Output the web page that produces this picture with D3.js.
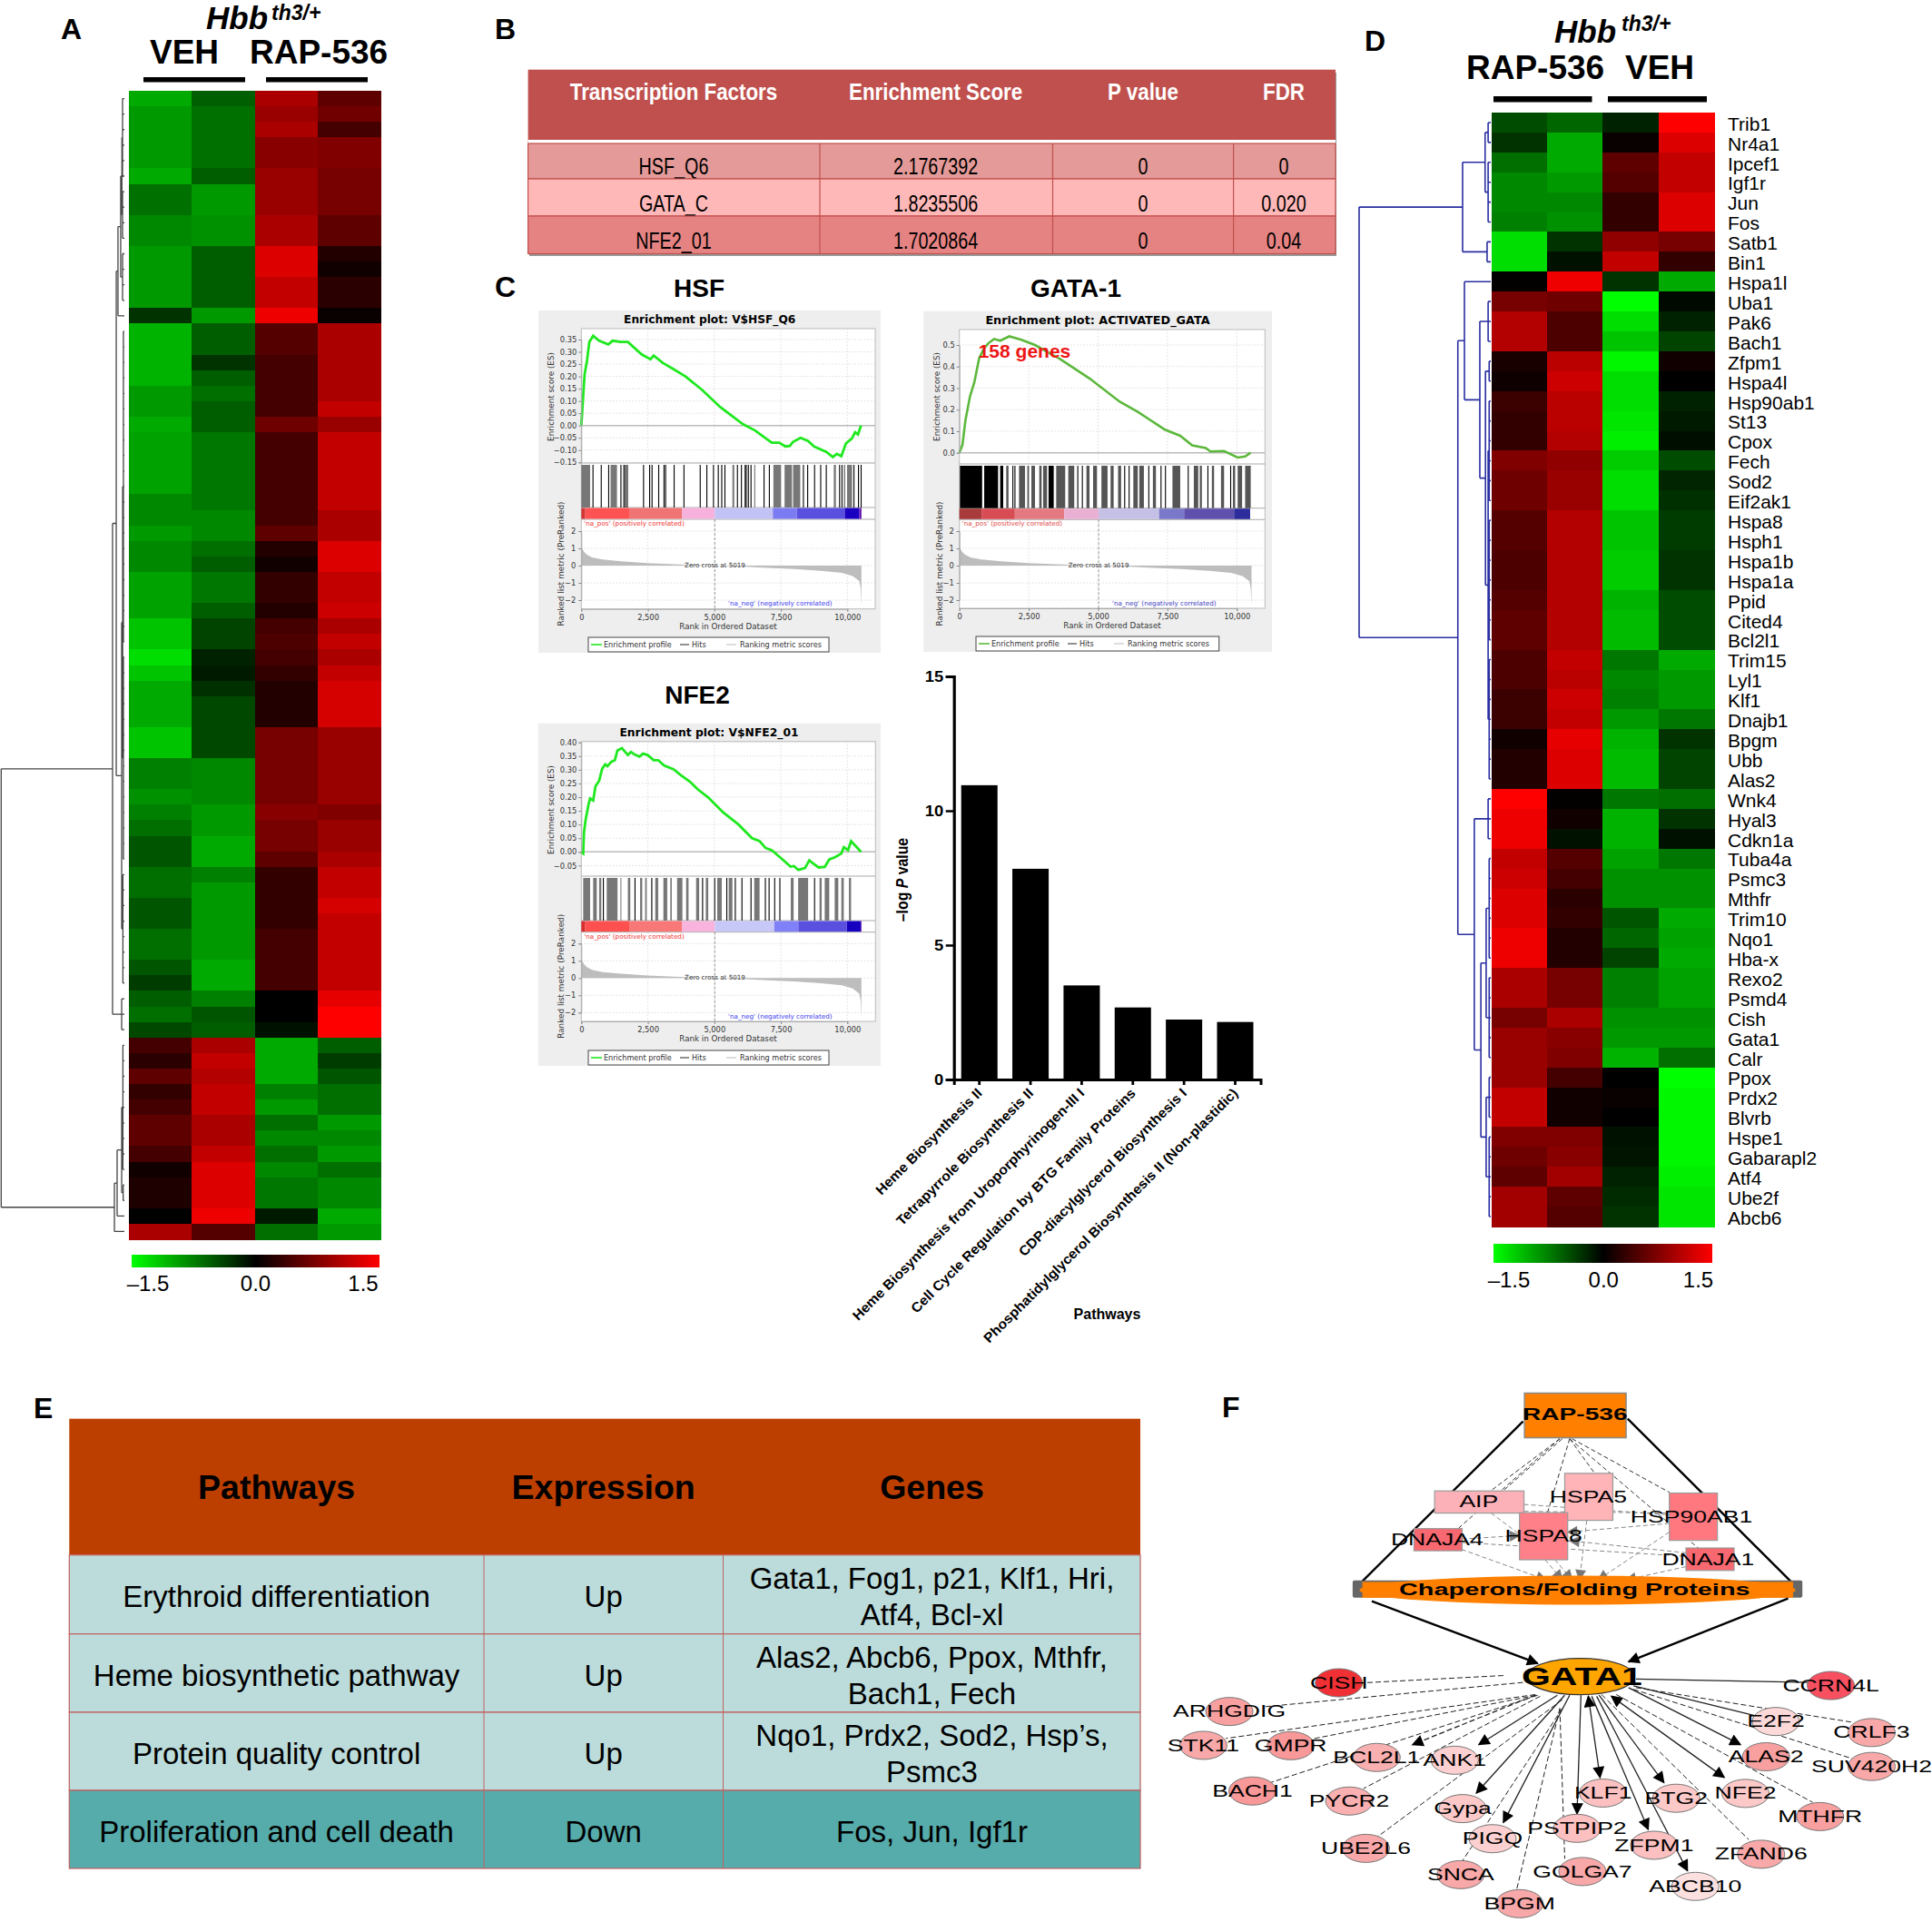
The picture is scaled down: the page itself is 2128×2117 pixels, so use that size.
<!DOCTYPE html>
<html><head><meta charset="utf-8">
<script src="https://d3js.org/d3.v7.min.js"></script>
<style>
html,body{margin:0;padding:0;background:#fff}
svg{display:block}
text{font-family:"Liberation Sans",Arial,sans-serif}
.dj text,.dj{font-family:"DejaVu Sans",sans-serif}
</style></head><body>
<svg id="c" width="2128" height="2117"></svg>
<script>
// ---------- DATA ----------
const heatA = [
[-1,-.56,1,.56],[-.9,-.66,.9,.66],[-.9,-.66,1,.4],[-.9,-.66,.8,.75],[-.9,-.66,.8,.75],[-1,-.55,.9,.7],[-.66,-.9,.9,.7],[-.66,-.9,.9,.7],[-.8,-.85,1,.55],[-.8,-.85,1,.55],
[-.9,-.55,1.3,.2],[-.9,-.55,1.3,.1],[-.9,-.55,1.15,.25],[-.9,-.55,1.15,.25],[-.3,-.9,1.4,.05],[-1.05,-.55,.5,1],[-1.05,-.55,.5,1],[-1.05,-.3,.4,1],[-1.05,-.55,.4,1],[-.9,-.65,.4,1],
[-.9,-.55,.4,1.15],[-1,-.55,.65,.9],[-.95,-.7,.4,1.15],[-.95,-.7,.4,1.15],[-.95,-.7,.4,1.15],[-.95,-.7,.4,1.15],[-.8,-.7,.4,1.15],[-.8,-.8,.4,1],[-.9,-.8,.55,1],[-.8,-.65,.2,1.3],
[-.8,-.55,.1,1.3],[-.95,-.7,.3,1.15],[-.95,-.7,.3,1.15],[-.95,-.55,.2,1.2],[-1.15,-.4,.4,1],[-1.15,-.4,.45,1.15],[-1.3,-.2,.4,1],[-1.15,-.15,.3,1.15],[-1,-.28,.2,1.25],[-1,-.42,.2,1.25],
[-1,-.42,.2,1.25],[-1.15,-.42,.7,.9],[-1.15,-.42,.7,.9],[-.75,-.8,.7,.9],[-.75,-.8,.7,.9],[-.85,-.8,.7,.9],[-.75,-.9,.8,.75],[-.65,-.9,.7,.9],[-.5,-1,.7,.9],[-.5,-1,.55,1],
[-.65,-.75,.3,1.15],[-.65,-.9,.3,1.15],[-.5,-.9,.3,1.25],[-.5,-.9,.3,1.15],[-.65,-.9,.4,1.15],[-.65,-.9,.4,1.15],[-.5,-1,.4,1.15],[-.35,-1,.4,1.15],[-.55,-.75,0,1.35],[-.65,-.5,0,1.5],
[-.42,-.55,-.1,1.5],[.4,1,-1,-.55],[.25,1.15,-1,-.35],[.55,1.05,-1,-.5],[.3,1.15,-.75,-.65],[.4,1.15,-.9,-.65],[.55,1,-.65,-.9],[.55,1,-.8,-.8],[.4,1.15,-.65,-.9],[.1,1.3,-.8,-.65],
[.18,1.3,-.7,-.8],[.18,1.3,-.7,-.8],[0,1.4,-.15,-1],[1,.5,-.65,-.9]];
const genesD = ["Trib1","Nr4a1","Ipcef1","Igf1r","Jun","Fos","Satb1","Bin1","Hspa1l","Uba1","Pak6","Bach1","Zfpm1","Hspa4l","Hsp90ab1","St13","Cpox","Fech","Sod2","Eif2ak1","Hspa8","Hsph1","Hspa1b","Hspa1a","Ppid","Cited4","Bcl2l1","Trim15","Lyl1","Klf1","Dnajb1","Bpgm","Ubb","Alas2","Wnk4","Hyal3","Cdkn1a","Tuba4a","Psmc3","Mthfr","Trim10","Nqo1","Hba-x","Rexo2","Psmd4","Cish","Gata1","Calr","Ppox","Prdx2","Blvrb","Hspe1","Gabarapl2","Atf4","Ube2f","Abcb6"];
const heatD = [
[-.45,-.6,-.2,1.5],[-.3,-1,.05,1.3],[-.65,-1,.55,1.15],[-.8,-.9,.5,1.15],[-.8,-.8,.3,1.3],[-.75,-.85,.3,1.3],[-1.3,-.3,.85,.7],[-1.3,-.1,1.15,.3],[.02,1.4,-.3,-1],[.7,.65,-1.5,-.05],
[1.05,.45,-1.3,-.2],[1.05,.45,-1.15,-.4],[.15,1.1,-1.45,.1],[.08,1.2,-1.3,0],[.35,1.1,-1.3,-.2],[.3,1.1,-1.35,-.15],[.3,1.05,-1.4,-.08],[.75,.85,-1.2,-.45],[.65,.9,-1.3,-.22],[.65,.9,-1.3,-.28],
[.5,1.05,-1.15,-.35],[.5,1.05,-1.15,-.35],[.45,1.05,-1.2,-.3],[.45,1.05,-1.2,-.3],[.5,1.05,-1.05,-.45],[.55,1.05,-1.1,-.45],[.55,1.05,-1.1,-.45],[.45,1.15,-.7,-1],[.45,1.1,-.8,-.9],[.35,1.2,-.75,-.9],
[.35,1.15,-.9,-.7],[.1,1.35,-1.05,-.3],[.2,1.3,-1.1,-.4],[.2,1.3,-1.1,-.4],[1.5,.02,-.7,-.65],[1.4,.1,-1.05,-.3],[1.4,-.1,-1.05,-.1],[1.15,.5,-.95,-.7],[1.2,.4,-.85,-.85],[1.3,.25,-.85,-.85],
[1.3,.3,-.5,-1],[1.4,.2,-.6,-.95],[1.4,.2,-.4,-1],[1,.7,-.75,-.95],[1,.7,-.75,-.95],[.7,1,-.85,-.85],[.9,.8,-.9,-.9],[.9,.75,-1.05,-.65],[.9,.4,0,-1.5],[1.15,.1,.05,-1.45],
[1.15,.1,0,-1.45],[.75,.75,-.1,-1.45],[.65,.8,-.12,-1.45],[.55,.95,-.2,-1.4],[.95,.55,-.25,-1.35],[.95,.5,-.3,-1.35]];
const span=(a,b)=>d3.range(a,b+1);
const treeA=[1,
 [.096,
  [.066,
   [.052,[.03,[.02,[.015,...span(1,6)],[.015,...span(7,10)]],[.015,...span(11,14)]],15],
   [.022,[.014,[.008,...span(16,36)],[.008,...span(37,50)]],[.012,...span(51,58)]]],
  [.022,59,60,61]],
 [.081,[.059,[.022,[.012,...span(62,70)],[.01,71,72]],73],74]];
const treeD=[1,
 [.214,[.043,[.02,1,2],[.02,3,4,5,6]],[.028,7,8]],
 [.25,
  [.2,9,[.083,[.02,10,11,12],[.04,[.012,13,14],[.02,[.012,...span(15,20)],[.012,...span(21,27)],[.012,...span(28,34)]]]]],
  [.125,[.02,35,36,37],[.075,[.035,[.012,...span(38,43)],[.012,...span(44,48)]],[.035,[.012,49,50,51],[.012,...span(52,56)]]]]]];
const legendTicks=[-1.5,0,1.5];

const tableBHead=["Transcription Factors","Enrichment Score","P value","FDR"];
const tableBRows=[["HSF_Q6","2.1767392","0","0"],["GATA_C","1.8235506","0","0.020"],["NFE2_01","1.7020864","0","0.04"]];
const tableEHead=["Pathways","Expression","Genes"];
const tableERows=[
 [["Erythroid differentiation"],["Up"],["Gata1, Fog1, p21, Klf1, Hri,","Atf4, Bcl-xl"]],
 [["Heme biosynthetic pathway"],["Up"],["Alas2, Abcb6, Ppox, Mthfr,","Bach1, Fech"]],
 [["Protein quality control"],["Up"],["Nqo1, Prdx2, Sod2, Hsp’s,","Psmc3"]],
 [["Proliferation and cell death"],["Down"],["Fos, Jun, Igf1r"]]];

const barLabels=["Heme Biosynthesis II","Tetrapyrrole Biosynthesis II","Heme Biosynthesis from Uroporphyrinogen-III I","Cell Cycle Regulation by BTG Family Proteins","CDP-diacylglycerol Biosynthesis I","Phosphatidylglycerol Biosynthesis II (Non-plastidic)"];
const barValues=[10.95,7.84,3.5,2.68,2.23,2.14];

const esHSF=[[0,0],[25,.04],[70,.12],[125,.21],[215,.265],[300,.34],[445,.365],[670,.345],[1010,.33],[1180,.345],[1470,.34],[1750,.34],[2265,.29],[2600,.27],[2720,.285],[3060,.255],[3460,.23],[3915,.2],[4540,.145],[5225,.075],[6080,.005],[6530,-.02],[7160,-.07],[7440,-.07],[7670,-.085],[7840,-.083],[7955,-.067],[8240,-.05],[8525,-.063],[8750,-.085],[9205,-.107],[9457,-.128],[9605,-.115],[9775,-.125],[9945,-.073],[10175,-.052],[10290,-.027],[10400,-.036],[10515,0]];
const esGATA=[[0,0],[110,.036],[218,.15],[380,.26],[545,.33],[710,.437],[870,.48],[1035,.507],[1250,.528],[1470,.52],[1800,.54],[2235,.524],[2725,.5],[3600,.437],[4690,.345],[5780,.237],[6430,.19],[7410,.107],[7960,.079],[8390,.034],[8880,.022],[9050,.006],[9540,.008],[10030,-.022],[10300,-.017],[10500,0]];
const esNFE2=[[0,0],[70,-.006],[100,.07],[160,.116],[215,.144],[270,.173],[330,.195],[445,.188],[535,.24],[670,.26],[785,.304],[900,.32],[980,.313],[1125,.329],[1263,.335],[1354,.37],[1525,.379],[1750,.354],[1866,.365],[2037,.354],[2185,.348],[2320,.359],[2490,.354],[2720,.335],[2890,.335],[3118,.315],[3460,.302],[3744,.28],[4085,.256],[4370,.229],[4770,.199],[5337,.144],[5906,.1],[6418,.05],[6703,.039],[6930,.014],[7158,.006],[7500,-.022],[7864,-.054],[7990,-.052],[8160,-.066],[8410,-.059],[8570,-.031],[8694,-.041],[8922,-.057],[9150,-.055],[9320,-.028],[9548,-.019],[9775,-.006],[9866,.017],[10026,.006],[10140,.039],[10515,0]];
const hitsHSF=[[0,330],420,730,1010,[1100,1340],1470,1580,1640,1710,2320,2550,2640,2890,3090,3150,3470,3840,4450,4700,4950,5130,5260,5380,[5680,5750],5850,6000,6140,6180,6260,6360,[6500,6540],6850,7050,[7220,7510],[7640,7920],[7960,8230],8330,8490,8750,8980,9190,[9490,9570],9690,9780,[9870,9920],[9990,10180],10230,10400,10500];
const hitsGATA=[[20,820,1],[895,1395,1],[1470,1580,1],[1690,1770],1910,1985,[2150,2365],[2450,2510],[2595,2725],[2880,2965],[3020,3160],[3215,3400,1],[3490,3815],[3925,4140],4250,4415,[4580,4690],[4820,4960],[5120,5340],[5450,5560],[5720,5830],5940,6100,[6270,6430],[6485,6650],6810,[6975,7085],7250,7410,[7680,7960],8230,[8450,8610],[8665,8740],8940,[9100,9180],[9430,9540],9760,[9860,9940],[10030,10190],[10300,10500]];
const hitsNFE2=[[70,330],[445,580],[670,750],810,[955,1360],[1470,1505],[1750,1840],2000,[2210,2290],[2400,2460],2630,[2780,2890],[3085,3230],[3345,3400],[3600,3800],[3940,4030],[4315,4430],4540,[4680,4770],4995,[5110,5280],5450,[5540,5680],5770,6020,6360,[6500,6700],6900,7040,7250,7445,[7875,7980],[8150,8525],8750,[8955,9035],[9150,9320],[9525,9660],[9775,9866],[10060,10140]];
const metricCurve=[[0,1.3],[30,1],[100,.8],[200,.65],[400,.48],[800,.35],[1500,.25],[2500,.15],[3500,.08],[4500,.02],[5019,0],[6000,-.05],[7000,-.13],[8000,-.2],[9000,-.3],[9800,-.42],[10200,-.6],[10450,-.9],[10500,-1.3],[10530,-2.3]];
const bandHSF=[[0,150,"#d23636"],[150,1800,"#ff5252"],[1800,3780,"#f07474"],[3780,5019,"#f6b2dc"],[5019,7200,"#c2c2f4"],[7200,8100,"#7c7cf2"],[8100,9900,"#5a50e0"],[9900,10450,"#1a00c0"],[10450,10530,"#6010b0"]];
const bandGATA=[[0,800,"#a83a3c"],[800,2000,"#d84c54"],[2000,3780,"#e47a80"],[3780,5019,"#eab0d4"],[5019,7200,"#c4c0e6"],[7200,8100,"#7a78c8"],[8100,9900,"#5e50ac"],[9900,10480,"#2c2c9c"]];
const bandNFE2=[[0,150,"#d83030"],[150,1800,"#ff5050"],[1800,3780,"#f87878"],[3780,5019,"#f8b4dc"],[5019,7250,"#c8c8f8"],[7250,8160,"#8080f8"],[8160,9980,"#5a50e0"],[9980,10500,"#1800c0"],[10500,10530,"#6010b0"]];

// network: names, colours and layout units (the scales below map layout units to the page)
const netCircles=[["CISH",360,876,"#f03034"],["CCRN4L",1362,884,"#f85060"],["ARHGDIG",137,959,"#f8a0a0"],["E2F2",1250,988,"#fcd8d8"],["CRLF3",1445,1020,"#f8a8a8"],["STK11",84,1057,"#f8a8a8"],["GMPR",262,1058,"#f89898"],["BCL2L1",437,1092,"#f8b0b0"],["ANK1",596,1100,"#fcd0d0"],["ALAS2",1230,1090,"#f8a0a0"],["SUV420H2",1445,1118,"#f8a8a8"],["BACH1",184,1189,"#f89898"],["PYCR2",381,1218,"#fab0b0"],["KLF1",898,1195,"#fcc0c0"],["BTG2",1047,1210,"#fcc8c8"],["NFE2",1188,1196,"#fcc8c8"],["MTHFR",1340,1263,"#f8a0a0"],["Gypa",612,1240,"#fcc8c8"],["PIGQ",673,1327,"#fcd0d0"],["PSTPIP2",845,1297,"#fcc0c0"],["ZFPM1",1002,1346,"#fcc0c0"],["ZFAND6",1220,1372,"#f8a8a8"],["UBE2L6",415,1355,"#f8a8a8"],["SNCA",608,1431,"#f8a8a8"],["GOLGA7",856,1422,"#f8a8a8"],["ABCB10",1086,1465,"#fce0e0"],["BPGM",728,1515,"#f8a8a8"]];
const netRects=[["AIP",555,321,737,385,"#fcb0b8",645],["HSPA5",820,270,918,406,"#ffb4b8",868],["HSP90AB1",1033,327,1131,464,"#ff7880",1078],["HSPA8",728,384,826,520,"#ff8088",777],["DNAJA4",513,430,611,494,"#f86870",560],["DNAJA1",1067,486,1165,551,"#f86870",1112]];
// x1,y1,x2,y2,kind: d dashed, s solid, a solid arrow, b dashed arrow, c double arrow
const netEdges=[[695,855,410,876,"d"],[735,875,210,945,"d"],[760,910,130,1037,"d"],[762,912,300,1040,"d"],[760,912,510,1055,"b"],[765,912,205,1172,"d"],[770,915,410,1182,"d"],[805,912,645,1055,"a"],[815,925,440,1320,"d"],[820,912,640,1195,"a"],[830,912,695,1280,"a"],[815,950,610,1395,"d"],[853,912,845,1255,"a"],[810,950,722,1475,"d"],[810,950,820,1385,"d"],[868,915,892,1150,"c"],[875,915,990,1300,"a"],[885,915,1070,1420,"a"],[890,912,1022,1165,"a"],[895,910,1195,1330,"d"],[915,915,1145,1150,"c"],[925,910,1325,1222,"d"],[950,890,1178,1055,"a"],[960,885,1205,970,"s"],[965,890,1405,990,"d"],[960,895,1405,1095,"d"],[965,865,1320,875,"s"]];
const netInner=[[810,170,670,320,"d"],[815,170,695,320,"d"],[830,170,880,268,"d"],[830,170,785,384,"d"],[835,170,1033,325,"d"],[830,170,1095,490,"d"],[810,170,555,490,"d"],[610,490,782,578,"g"],[780,520,815,578,"g"],[800,520,835,578,"g"],[865,406,850,578,"g"],[1033,440,888,578,"g"],[1067,540,945,578,"g"],[737,360,1033,390,"e"],[737,380,1033,385,"e"],[1033,415,826,440,"g"],[611,470,1067,510,"e"],[1067,500,830,465,"g"],[611,460,728,450,"g"],[670,385,760,480,"e"]];
const netMain=[[735,120,408,582],[948,112,1280,582]];
const netChap=[[427,640,765,820],[1275,632,950,815]];

// ---------- DRAW ----------
const svg=d3.select("#c");
const color=d3.scaleLinear().domain([-1.5,0,1.5]).range(["#00ff00","#000000","#ff0000"]);
const defs=svg.append("defs");
function marker(id,fill,w,h){defs.append("marker").attr("id",id).attr("viewBox","0 0 10 10").attr("refX",9).attr("refY",5)
 .attr("markerUnits","userSpaceOnUse").attr("markerWidth",w).attr("markerHeight",h).attr("orient","auto-start-reverse")
 .append("path").attr("d","M0,0L10,5L0,10Z").attr("fill",fill);}
marker("ab","#000",17,13);marker("ag","#777",16,12);
const grad=defs.append("linearGradient").attr("id","lg");
[[0,"#00ff00"],[.5,"#000"],[1,"#ff0000"]].forEach(s=>grad.append("stop").attr("offset",s[0]).attr("stop-color",s[1]));

function T(g,x,y,s,size,o={}){return g.append("text").attr("x",x).attr("y",y).text(s).attr("font-size",size)
 .attr("font-weight",o.w||null).attr("font-style",o.i||null).attr("text-anchor",o.a||"start").attr("fill",o.f||"#000");}
// narrow text: stretched horizontally by sx around its anchor
function N(g,x,y,s,size,sx,o={}){return g.append("text").attr("transform",`translate(${x},${y}) scale(${sx},1)`).text(s).attr("font-size",size)
 .attr("font-weight",o.w||null).attr("text-anchor","middle").attr("fill",o.f||"#000");}

function heat(g,data,x0,x1,y0,y1){
 const x=d3.scaleBand().domain(d3.range(4)).range([x0,x1]);
 const y=d3.scaleBand().domain(d3.range(data.length)).range([y0,y1]);
 g.selectAll("g.r").data(data).join("g").selectAll("rect").data((d,i)=>d.map((v,j)=>({v,j,i}))).join("rect")
  .attr("x",d=>x(d.j)).attr("y",d=>y(d.i)).attr("width",x.bandwidth()+.5).attr("height",y.bandwidth()+.5)
  .attr("fill",d=>color(d.v)).attr("shape-rendering","crispEdges");
 return y;
}
function dendro(g,tree,y,xh,stroke,w){
 const p=d3.path();
 (function walk(n){
  if(typeof n==="number") return {x:xh(0),y:y(n-1)+y.bandwidth()/2};
  const ch=n.slice(1).map(walk), X=xh(n[0]);
  ch.forEach(c=>{p.moveTo(c.x,c.y);p.lineTo(X,c.y);});
  p.moveTo(X,ch[0].y);p.lineTo(X,ch[ch.length-1].y);
  return {x:X,y:(ch[0].y+ch[ch.length-1].y)/2};
 })(tree);
 g.append("path").attr("d",p.toString()).attr("fill","none").attr("stroke",stroke).attr("stroke-width",w);
}
function colorbar(g,x0,x1,y0,y1,lx,ly,size){
 g.append("rect").attr("x",x0).attr("y",y0).attr("width",x1-x0).attr("height",y1-y0).attr("fill","url(#lg)");
 const s=d3.scaleLinear().domain([-1.5,1.5]).range(lx);
 legendTicks.forEach(t=>T(g,s(t),ly,t===0?"0.0":(t<0?"–1.5":"1.5"),size,{a:"middle"}));
}
function Hbb(x,y,sx,sy){T(svg,x,y,"Hbb",35,{w:"bold",i:"italic"});T(svg,sx,sy,"th3/+",23,{w:"bold",i:"italic"});}

// Panel A
Hbb(227,32,299,22);
T(svg,165,70,"VEH",37,{w:"bold"});T(svg,275,70,"RAP-536",37,{w:"bold"});
svg.append("rect").attr("x",158).attr("y",85).attr("width",112).attr("height",5.5);
svg.append("rect").attr("x",293).attr("y",85).attr("width",112).attr("height",5.5);
const ga=svg.append("g");
const yA=heat(ga,heatA,142,419,100,1365);
dendro(ga,treeA,yA,d3.scaleLinear().domain([0,1]).range([137,1.3]),"#444",1.3);
colorbar(ga,145,418,1382,1396,[163,400],1422,24);

// Panel D
Hbb(1712,47,1786,34);
T(svg,1615,87,"RAP-536",37,{w:"bold"});T(svg,1790,87,"VEH",37,{w:"bold"});
svg.append("rect").attr("x",1645).attr("y",106).attr("width",108.5).attr("height",6.5);
svg.append("rect").attr("x",1771).attr("y",106).attr("width",109).attr("height",6.5);
const gd=svg.append("g");
const yD=heat(gd,heatD,1642.5,1888,124,1351);
dendro(gd,treeD,yD,d3.scaleLinear().domain([0,1]).range([1642,1497]),"#2a2ea0",1.6);
gd.selectAll("text.g").data(genesD).join("text").attr("x",1903).attr("y",(d,i)=>yD(i)+yD.bandwidth()/2+8.8).text(d=>d).attr("font-size",21);
colorbar(gd,1645,1886,1370,1391,[1662,1870.5],1418,24);

// Panel letters
[["A",67,43],["B",545,43],["C",545,327],["D",1503,56],["E",37,1562],["F",1346,1561]].forEach(d=>T(svg,d[1],d[2],d[0],32,{w:"bold"}));

// Table B
(function(){
 const xs=[581.6,903,1159.5,1358.6,1471], ys=[158,197,238,279.5], rowFill=["#e49a98","#ffb8b8","#e58383"];
 const cx=[742,1030.6,1259,1414], base=[192,233,274];
 const g=svg.append("g");
 g.append("rect").attr("x",583).attr("y",80).attr("width",889).attr("height",202).attr("fill","#999");
 g.append("rect").attr("x",xs[0]).attr("y",76.7).attr("width",xs[4]-xs[0]).attr("height",81).attr("fill","#c0504d");
 g.append("rect").attr("x",xs[0]).attr("y",154).attr("width",xs[4]-xs[0]).attr("height",4).attr("fill","#fff");
 tableBHead.forEach((h,i)=>N(g,cx[i],110,h,26,.86,{w:"bold",f:"#fff"}));
 tableBRows.forEach((r,j)=>{
  g.append("rect").attr("x",xs[0]).attr("y",ys[j]).attr("width",xs[4]-xs[0]).attr("height",ys[j+1]-ys[j]).attr("fill",rowFill[j]).attr("stroke","#c0504d").attr("stroke-width",1.2);
  r.forEach((c,i)=>N(g,cx[i],base[j],c,25,.79));
  [1,2,3].forEach(k=>g.append("line").attr("x1",xs[k]).attr("x2",xs[k]).attr("y1",ys[j]).attr("y2",ys[j+1]).attr("stroke","#c0504d").attr("stroke-width",1.2));
 });
})();

// Headings C
T(svg,770,327,"HSF",28,{w:"bold",a:"middle"});
T(svg,1185,327,"GATA-1",28,{w:"bold",a:"middle"});
T(svg,768,775,"NFE2",28,{w:"bold",a:"middle"});

function gsea(c){
 const g=svg.append("g").attr("class","dj");
 const F=c.frame;
 g.append("rect").attr("x",F.bg[0]).attr("y",F.bg[1]).attr("width",F.bg[2]-F.bg[0]).attr("height",F.bg[3]-F.bg[1]).attr("fill","#eeeeee");
 g.append("rect").attr("x",F.l).attr("y",F.t).attr("width",F.r-F.l).attr("height",F.mb-F.t).attr("fill","#fff").attr("stroke","#bbb");
 const x=d3.scaleLinear().domain([0,10000]).range([F.l,F.x10]);
 const es=d3.scaleLinear().domain(c.esD).range(c.esR);
 const m=d3.scaleLinear().domain([2,-2]).range([F.m2,F.m2+76]);
 // grid
 c.esT.forEach(t=>g.append("line").attr("x1",F.l).attr("x2",F.r).attr("y1",es(t)).attr("y2",es(t)).attr("stroke","#ddd").attr("stroke-dasharray","1.5 2"));
 [-2,-1,0,1,2].forEach(t=>g.append("line").attr("x1",F.l).attr("x2",F.r).attr("y1",m(t)).attr("y2",m(t)).attr("stroke","#ddd").attr("stroke-dasharray","1.5 2"));
 [2500,5000,7500,10000].forEach(t=>{[[F.t,F.eb],[F.bb,F.mb]].forEach(r=>g.append("line").attr("x1",x(t)).attr("x2",x(t)).attr("y1",r[0]).attr("y2",r[1]).attr("stroke","#ddd").attr("stroke-dasharray","1.5 2"));});
 // zero line + curve
 g.append("line").attr("x1",F.l).attr("x2",F.r).attr("y1",es(0)).attr("y2",es(0)).attr("stroke","#bbb").attr("stroke-width",1.5);
 g.append("path").datum(c.curve).attr("d",d3.line().x(d=>x(d[0])).y(d=>es(d[1]))).attr("fill","none").attr("stroke",c.green).attr("stroke-width",c.lw);
 // separators
 [F.eb,F.hb,F.bb].forEach(y=>g.append("line").attr("x1",F.l).attr("x2",F.r).attr("y1",y).attr("y2",y).attr("stroke","#aaa"));
 // hits
 c.hits.forEach(h=>{
  const isR=Array.isArray(h);
  g.append("rect").attr("x",x(isR?h[0]:h)).attr("y",F.eb+2).attr("width",isR?Math.max(1,x(h[1])-x(h[0])):1.1).attr("height",F.hb-F.eb-2)
   .attr("fill",isR?(h[2]?"#000":c.rangeFill):"#000");
 });
 // band
 c.band.forEach(b=>g.append("rect").attr("x",x(b[0])).attr("y",F.hb+.5).attr("width",x(b[1])-x(b[0])).attr("height",F.bb-F.hb-1).attr("fill",b[2]));
 // metric
 g.append("path").datum(metricCurve).attr("d",d3.area().x(d=>x(d[0])).y0(m(0)).y1(d=>m(d[1]))).attr("fill","#bdbdbd");
 g.append("line").attr("x1",x(5019)).attr("x2",x(5019)).attr("y1",F.bb).attr("y2",F.mb).attr("stroke","#999").attr("stroke-dasharray","3 2");
 // axes
 const ax=(a,tr)=>{const s=g.append("g").attr("transform",tr).call(a);s.select(".domain").attr("stroke","#aaa");s.selectAll("line").attr("stroke","#888");s.selectAll("text").attr("font-size",8.3).attr("font-family","DejaVu Sans").attr("fill","#333");};
 ax(d3.axisLeft(es).tickValues(c.esT).tickFormat(d3.format(c.esF)).tickSize(3).tickPadding(2),`translate(${F.l},0)`);
 ax(d3.axisLeft(m).tickValues([-2,-1,0,1,2]).tickFormat(d3.format("d")).tickSize(3).tickPadding(3),`translate(${F.l},0)`);
 ax(d3.axisBottom(x).tickValues([0,2500,5000,7500,10000]).tickFormat(d3.format(",")).tickSize(3).tickPadding(3),`translate(0,${F.mb})`);
 // text
 T(g,c.titleX,F.bg[1]+14,c.title,c.titleS,{w:"bold",a:"middle"});
 g.append("text").attr("transform",`translate(${c.esLX},${c.esLY}) rotate(-90)`).text("Enrichment score (ES)").attr("font-size",8.8).attr("text-anchor","middle").attr("fill","#333");
 g.append("text").attr("transform",`translate(${c.mLX},${F.m2+36}) rotate(-90)`).text("Ranked list metric (PreRanked)").attr("font-size",8.9).attr("text-anchor","middle").attr("fill","#333");
 T(g,c.rLX,F.mb+22,"Rank in Ordered Dataset",8.7,{a:"middle",f:"#333"});
 T(g,F.l+3,F.bb+7,"'na_pos' (positively correlated)",7.2,{f:c.pos});
 T(g,c.negX,F.mb-3.5,"'na_neg' (negatively correlated)",7.2,{f:c.neg});
 T(g,x(5019),m(0)+2,"Zero cross at 5019",7.1,{a:"middle",f:"#333"});
 // legend
 const L=g.append("g").attr("transform",`translate(${c.legX},${F.bg[3]-17})`);
 L.append("rect").attr("width",c.legW).attr("height",16).attr("fill","#fff").attr("stroke","#444").attr("stroke-width",1);
 L.append("line").attr("x1",3).attr("x2",15).attr("y1",8).attr("y2",8).attr("stroke",c.green).attr("stroke-width",1.6);
 T(L,17,11,"Enrichment profile",8.1,{f:"#333"});
 L.append("line").attr("x1",101).attr("x2",111).attr("y1",8).attr("y2",8).attr("stroke","#222");
 T(L,114,11,"Hits",8.1,{f:"#333"});
 L.append("line").attr("x1",152).attr("x2",163).attr("y1",8).attr("y2",8).attr("stroke","#bbb");
 T(L,167,11,"Ranking metric scores",8.1,{f:"#333"});
}
gsea({frame:{bg:[593,342,970,719],l:640.3,r:964,x10:933.3,t:362,eb:510,hb:559,bb:572,mb:670.7,m2:585},
 curve:esHSF,hits:hitsHSF,band:bandHSF,esD:[.35,-.15],esR:[374,509.3],esT:[.35,.3,.25,.2,.15,.1,.05,0,-.05,-.1,-.15],esF:".2f",
 green:"#1fe81f",lw:2.8,rangeFill:"#777",title:"Enrichment plot: V$HSF_Q6",titleS:12.2,titleX:781.7,esLX:610,esLY:437,mLX:621,rLX:802,negX:802,legX:648,legW:265,pos:"#f03030",neg:"#3c3cf0"});
gsea({frame:{bg:[1017.3,342.7,1401,718],l:1056.7,r:1393.3,x10:1362.3,t:363,eb:511,hb:559.7,bb:572.3,mb:670,m2:585},
 curve:esGATA,hits:hitsGATA,band:bandGATA,esD:[.5,0],esR:[380,498.7],esT:[.5,.4,.3,.2,.1,0],esF:".1f",
 green:"#5cb83c",lw:2.6,rangeFill:"#555",title:"Enrichment plot: ACTIVATED_GATA",titleS:12.8,titleX:1209,esLX:1035,esLY:437,mLX:1038,rLX:1225,negX:1225,legX:1075,legW:267.7,pos:"#e04848",neg:"#4040c0"});
T(svg,1077.7,394,"158 genes",21,{w:"bold",f:"#ee1515"});
gsea({frame:{bg:[592.7,796.7,970,1174],l:640.3,r:964.3,x10:933.3,t:816.7,eb:965,hb:1014,bb:1026.7,mb:1125,m2:1039.3},
 curve:esNFE2,hits:hitsNFE2,band:bandNFE2,esD:[.4,0],esR:[817.7,938.3],esT:[.4,.35,.3,.25,.2,.15,.1,.05,0,-.05],esF:".2f",
 green:"#1fe81f",lw:2.8,rangeFill:"#777",title:"Enrichment plot: V$NFE2_01",titleS:12.3,titleX:781,esLX:610,esLY:892,mLX:621,rLX:802,negX:802,legX:648,legW:265,pos:"#f03030",neg:"#3c3cf0"});

// Bars
(function(){
 const g=svg.append("g");
 const x=d3.scaleBand().domain(barLabels).range([1050.7,1388.5]).paddingInner(.29).paddingOuter(.142);
 const y=d3.scaleLinear().domain([0,15]).range([1189,745]);
 g.selectAll("rect.b").data(barValues).join("rect").attr("x",(d,i)=>x(barLabels[i])).attr("y",d=>y(d)).attr("width",x.bandwidth()).attr("height",d=>y(0)-y(d)).attr("fill","#000");
 const ay=g.append("g").attr("transform","translate(1050.7,0)").call(d3.axisLeft(y).tickValues([0,5,10,15]).tickSize(9).tickPadding(2));
 ay.select(".domain").attr("stroke-width",3.2);ay.selectAll("line").attr("stroke-width",2.5);
 ay.selectAll("text").attr("font-size",16).attr("font-weight","bold").attr("font-family","Liberation Sans").attr("transform","scale(1.15,1)").attr("x",-10);
 const ax=g.append("g").attr("transform","translate(0,1189)").call(d3.axisBottom(x).tickSize(6).tickFormat(""));
 ax.select(".domain").attr("stroke-width",3);ax.selectAll("line").attr("stroke-width",2.8);
 barLabels.forEach(l=>g.append("text").attr("transform",`translate(${x(l)+x.bandwidth()/2+4},${1205}) rotate(-45) scale(1.05,1)`).text(l).attr("font-size",15).attr("font-weight","bold").attr("text-anchor","end"));
 const yl=g.append("text").attr("transform","translate(1000,969) rotate(-90) scale(.88,1)").attr("font-size",18).attr("font-weight","bold").attr("text-anchor","middle");
 yl.append("tspan").text("–log ");yl.append("tspan").text("P").attr("font-style","italic");yl.append("tspan").text(" value");
 g.append("text").attr("x",1219.5).attr("y",1453).text("Pathways").attr("font-size",16).attr("font-weight","bold").attr("text-anchor","middle");
})();

// Table E
(function(){
 const g=svg.append("g");
 const xs=[76.3,533,796.5,1256], ys=[1712.8,1799.7,1886,1972,2058], cx=[304.6,664.7,1026.5], fills=["#bcdcdc","#bcdcdc","#bcdcdc","#56abab"];
 g.append("rect").attr("x",xs[0]).attr("y",1562.7).attr("width",xs[3]-xs[0]).attr("height",ys[0]-1562.7).attr("fill","#bd3f00");
 tableEHead.forEach((h,i)=>T(g,cx[i],1651,h,37.5,{w:"bold",a:"middle"}));
 tableERows.forEach((r,j)=>{
  g.append("rect").attr("x",xs[0]).attr("y",ys[j]).attr("width",xs[3]-xs[0]).attr("height",ys[j+1]-ys[j]).attr("fill",fills[j]).attr("stroke","#c06060").attr("stroke-width",1.2);
  [1,2].forEach(k=>g.append("line").attr("x1",xs[k]).attr("x2",xs[k]).attr("y1",ys[j]).attr("y2",ys[j+1]).attr("stroke","#c06060").attr("stroke-width",1));
  r.forEach((lines,i)=>lines.forEach((t,k)=>T(g,cx[i],lines.length>1?ys[j]+36.8+k*40:ys[j]+57,t,33,{a:"middle"})));
 });
})();

// Network
(function(){
 const X=d3.scaleLinear().domain([0,1568]).range([1280,2128]);
 const Y=d3.scaleLinear().domain([0,1568]).range([1520,2117]);
 const g=svg.append("g");
 const LBL=(t,x,y,size,w)=>g.append("text").attr("transform",`translate(${X(x)},${Y(y)}) scale(1.52,1)`).text(t).attr("font-size",size).attr("text-anchor","middle").attr("font-weight",w||null);
 // big lines
 netMain.forEach(d=>g.append("line").attr("x1",X(d[0])).attr("y1",Y(d[1])).attr("x2",X(d[2])).attr("y2",Y(d[3])).attr("stroke","#000").attr("stroke-width",2.4));
 // RAP box
 g.append("rect").attr("x",X(738)).attr("y",Y(38)).attr("width",X(945)-X(738)).attr("height",Y(167)-Y(38)).attr("fill","#ff8000").attr("stroke","#888").attr("stroke-width",1.5);
 // inner edges
 netInner.forEach(d=>{
  const l=g.append("line").attr("x1",X(d[0])).attr("y1",Y(d[1])).attr("x2",X(d[2])).attr("y2",Y(d[3]))
   .attr("stroke",d[4]==="d"?"#333":"#888").attr("stroke-width",1).attr("stroke-dasharray","5 3");
  if(d[4]==="g")l.attr("marker-end","url(#ag)");
 });
 netRects.forEach(d=>g.append("rect").attr("x",X(d[1])).attr("y",Y(d[2])).attr("width",X(d[3])-X(d[1])).attr("height",Y(d[4])-Y(d[2])).attr("fill",d[5]).attr("stroke","#999").attr("stroke-width",1.2));
 // chaperon bar
 g.append("rect").attr("x",X(388)).attr("y",Y(580)).attr("width",X(1304)-X(388)).attr("height",Y(630)-Y(580)).attr("fill","#666").attr("rx",2);
 g.append("ellipse").attr("cx",X(846)).attr("cy",Y(608)).attr("rx",(X(1290)-X(402))/2).attr("ry",16).attr("fill","#ff8000");
 g.append("rect").attr("x",X(408)).attr("y",Y(584)).attr("width",X(1285)-X(408)).attr("height",Y(630)-Y(584)).attr("fill","#ff8000");
 // chaperon->GATA arrows
 netChap.forEach(d=>g.append("line").attr("x1",X(d[0])).attr("y1",Y(d[1])).attr("x2",X(d[2])).attr("y2",Y(d[3])).attr("stroke","#000").attr("stroke-width",2.4).attr("marker-end","url(#ab)"));
 // GATA edges
 netEdges.forEach(d=>{
  const k=d[4], l=g.append("line").attr("x1",X(d[0])).attr("y1",Y(d[1])).attr("x2",X(d[2])).attr("y2",Y(d[3])).attr("stroke","#222").attr("stroke-width",k==="d"?1:1.3);
  if(k==="d"||k==="b")l.attr("stroke-dasharray","6 3");
  if(k==="a"||k==="b"||k==="c")l.attr("marker-end","url(#ab)");
  if(k==="c")l.attr("marker-start","url(#ab)");
 });
 // nodes
 netCircles.forEach(d=>g.append("ellipse").attr("cx",X(d[1])).attr("cy",Y(d[2])).attr("rx",26).attr("ry",15.5).attr("fill",d[3]).attr("stroke","#777").attr("stroke-width",1));
 g.append("ellipse").attr("cx",X(852)).attr("cy",Y(858)).attr("rx",59.5).attr("ry",20).attr("fill","#ffa500").attr("stroke","#333").attr("stroke-width",1.2);
 // labels
 netCircles.forEach(d=>LBL(d[0],d[1],d[2]+16,17.5));
 netRects.forEach(d=>LBL(d[0],d[6],(d[2]+d[4])/2+16,17.5));
 LBL("RAP-536",841,115,18.5,"bold");
 LBL("Chaperons/Folding Proteins",840,622,19,"bold");
 LBL("GATA1",855,882,27,"bold");
})();
</script>
</body></html>
